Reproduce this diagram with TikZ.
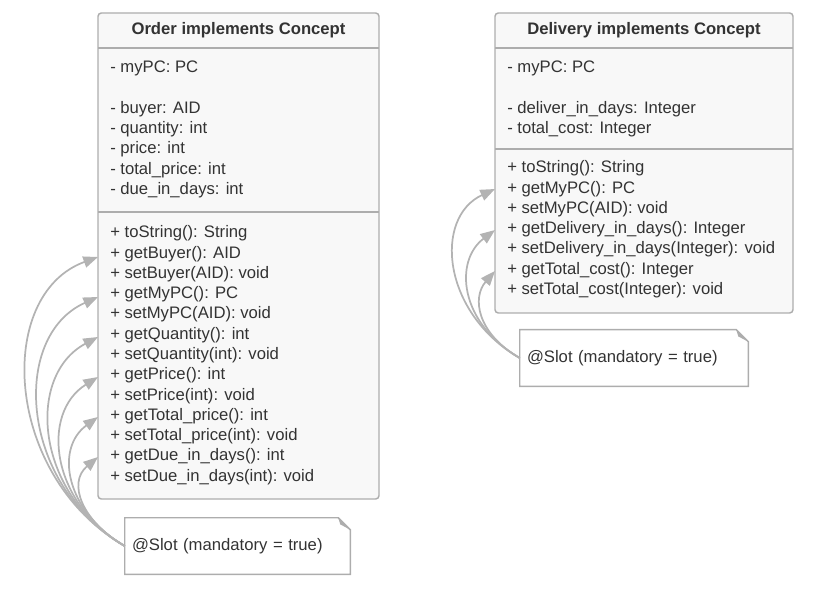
\documentclass[tikz,border=0pt]{standalone}
\usepackage{fontspec}
\setmainfont{Liberation Sans}
\usetikzlibrary{arrows.meta}

\definecolor{boxline}{HTML}{ADADAD}
\definecolor{boxfill}{HTML}{F8F8F8}
\definecolor{txt}{HTML}{333333}
\definecolor{slotgray}{HTML}{B3B3B3}

\tikzset{
  classbox/.style={draw=boxline, fill=boxfill, line width=1.1pt, rounded corners=2.5pt},
  sepline/.style={draw=boxline, line width=1.1pt},
  member/.style={anchor=base west, inner sep=0pt, text=txt, font=\fontsize{12.5}{15}\selectfont},
  classtitle/.style={anchor=base, inner sep=0pt, text=txt, font=\fontsize{12.5}{15}\selectfont\bfseries},
  notetext/.style={inner xsep=5.25pt, inner ysep=0pt, text width=158.25pt, align=left,
    minimum height=42pt, text=txt, font=\fontsize{12.5}{15}\selectfont},
  notebox/.style={draw=boxline, line width=1.1pt},
  slotarrow/.style={draw=slotgray, line width=1.3pt, -{Triangle[length=11pt,width=8.5pt]}},
}

\begin{document}
\begin{tikzpicture}[x=0.75pt,y=0.75pt]
    \useasboundingbox (0,0) rectangle (836,590);

    % Order class
    \draw[classbox] (98,91) rectangle (379,577);
    \draw[sepline] (98,542) -- (379,542);
    \draw[sepline] (98,378) -- (379,378);
    \node[classtitle] (orderTitle) at (238.5,555) {Order implements Concept};
    \foreach \row/\txt in {0/{- myPC: PC}, 2/{- buyer: AID}, 3/{- quantity: int},
        4/{- price: int}, 5/{- total\_price: int}, 6/{- due\_in\_days: int}}{
        \node[member] (oAttr\row) at (110,{517-20.25*\row}) {\txt};
    }
    \foreach \txt [count=\i from 0] in {{+ toString(): String}, {+ getBuyer(): AID},
        {+ setBuyer(AID): void}, {+ getMyPC(): PC}, {+ setMyPC(AID): void},
        {+ getQuantity(): int}, {+ setQuantity(int): void}, {+ getPrice(): int},
        {+ setPrice(int): void}, {+ getTotal\_price(): int}, {+ setTotal\_price(int): void},
        {+ getDue\_in\_days(): int}, {+ setDue\_in\_days(int): void}}{
        \node[member] (oOp\i) at (110,{352-20.25*\i}) {\txt};
    }

    % Delivery class
    \draw[classbox] (495,277) rectangle (793,577);
    \draw[sepline] (495,542) -- (793,542);
    \draw[sepline] (495,441) -- (793,441);
    \node[classtitle] (delivTitle) at (644,555) {Delivery implements Concept};
    \foreach \row/\txt in {0/{- myPC: PC}, 2/{- deliver\_in\_days: Integer},
        3/{- total\_cost: Integer}}{
        \node[member] (dAttr\row) at (507,{517-20.25*\row}) {\txt};
    }
    \foreach \txt [count=\i from 0] in {{+ toString(): String}, {+ getMyPC(): PC},
        {+ setMyPC(AID): void}, {+ getDelivery\_in\_days(): Integer},
        {+ setDelivery\_in\_days(Integer): void}, {+ getTotal\_cost(): Integer},
        {+ setTotal\_cost(Integer): void}}{
        \node[member] (dOp\i) at (507,{417-20.25*\i}) {\txt};
    }

    % notes
    \node[notetext] (slotL) at (237.5,44) {@Slot (mandatory = true)};
    \draw[notebox] (slotL.south west) -- (slotL.north west) -- ([xshift=-9pt]slotL.north east)
        -- ([yshift=-9pt]slotL.north east) -- (slotL.south east) -- cycle;
    \fill[boxline] ([xshift=-9pt]slotL.north east) -- ([yshift=-9pt]slotL.north east)
        -- ([xshift=-7.5pt,yshift=-5pt]slotL.north east) -- cycle;

    \node[notetext, text width=160.5pt] (slotR) at (634,232) {@Slot (mandatory = true)};
    \draw[notebox] (slotR.south west) -- (slotR.north west) -- ([xshift=-9pt]slotR.north east)
        -- ([yshift=-9pt]slotR.north east) -- (slotR.south east) -- cycle;
    \fill[boxline] ([xshift=-9pt]slotR.north east) -- ([yshift=-9pt]slotR.north east)
        -- ([xshift=-7.5pt,yshift=-5pt]slotR.north east) -- cycle;

    % slot arrows
    \foreach \k in {0,...,5}{
        \coordinate (oTip\k) at (98,{333-40*\k});
    }
    \foreach \k [evaluate=\k as \ang using 200+4*\k,
                 evaluate=\k as \dout using 0.75*(140-18*\k),
                 evaluate=\k as \din using 0.75*(110-14*\k)] in {0,...,5}{
        \draw[slotarrow] (slotL.west) to[out=150, in=\ang, out distance=\dout pt, in distance=\din pt] (oTip\k);
    }
    \foreach \k in {0,1,2}{
        \coordinate (dTip\k) at (495,{401-41*\k});
    }
    \foreach \k [evaluate=\k as \ang using 205+12*\k,
                 evaluate=\k as \dout using 0.75*(90-20*\k),
                 evaluate=\k as \din using 0.75*(68-16.5*\k)] in {0,1,2}{
        \draw[slotarrow] (slotR.west) to[out=150, in=\ang, out distance=\dout pt, in distance=\din pt] (dTip\k);
    }
\end{tikzpicture}
\end{document}
